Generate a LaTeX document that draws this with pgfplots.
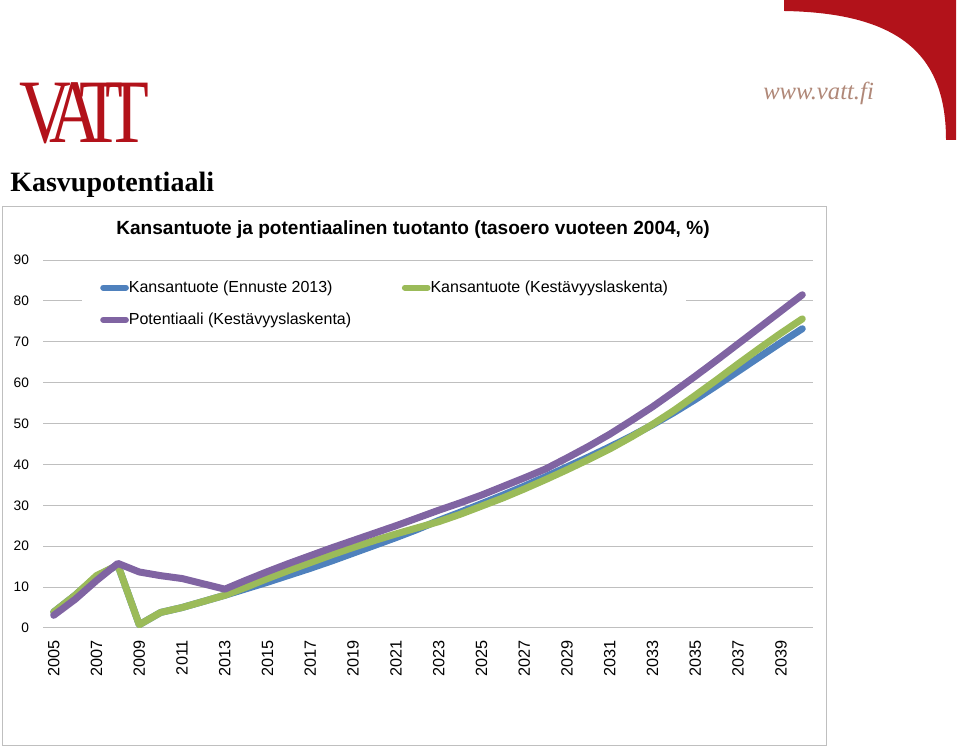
\documentclass[border=0pt]{standalone}
\usepackage{pgfplots}
\pgfplotsset{compat=1.18}
\usepackage{fontspec}
\setmainfont{Liberation Sans}
\newfontfamily\seriffont{Liberation Serif}
\definecolor{vblue}{RGB}{79,129,189}
\definecolor{vgreen}{RGB}{155,187,89}
\definecolor{vpurple}{RGB}{128,100,162}
\definecolor{vred}{RGB}{178,18,26}
\definecolor{gridgray}{RGB}{191,191,191}
\definecolor{urlcol}{RGB}{176,136,120}
\begin{document}
\begin{tikzpicture}
\begin{scope}[x=0.75pt,y=0.75pt]
\useasboundingbox (0,0) rectangle (960,749);
\fill[vred] (784,749) -- (956,749) -- (956,609) -- (946,609) .. controls (946,690) and (905,736) .. (784,738) -- cycle;
\node[anchor=base west, text=urlcol, font=\seriffont\itshape\fontsize{18.5}{18.5}\selectfont, inner sep=0] at (763,649) {www.vatt.fi};
\node[anchor=base west, text=vred, inner sep=0, font=\seriffont\fontsize{68}{68}\selectfont] at (19,606) {\scalebox{0.79}[1]{V\kern-.3em A\kern-.3em T\kern-.25em T}};
\node[anchor=base west, inner sep=0, font=\seriffont\bfseries\fontsize{21}{21}\selectfont] at (10,557) {Kasvupotentiaali};
\draw[gridgray, line width=0.75pt] (2,542) rectangle (826,3);
\node[font=\bfseries\fontsize{14.3}{14.3}\selectfont] at (413,519) {Kansantuote ja potentiaalinen tuotanto (tasoero vuoteen 2004, \%)};
\coordinate (O) at (43,121);
\end{scope}
\begin{axis}[
  at={(O)}, anchor=south west,
  scale only axis, width=577.5pt, height=276pt,
  xmin=-0.5, xmax=35.5, ymin=0, ymax=90,
  clip=false,
  axis line style={draw=none},
  tick style={draw=none},
  ymajorgrids, grid style={gridgray, line width=0.75pt},
  ytick={0,10,...,90},
  xtick={0,2,...,34},
  xticklabels={2005,2007,2009,2011,2013,2015,2017,2019,2021,2023,2025,2027,2029,2031,2033,2035,2037,2039},
  x tick label style={yshift=-5.5pt, rotate=90, anchor=east, font=\fontsize{12.2}{12.2}\selectfont},
  y tick label style={font=\fontsize{10.3}{10.3}\selectfont, xshift=-7pt},
  /pgf/number format/assume math mode=true,
  legend columns=2,
  legend cell align=left,
  legend style={at={(0.0506,0.984)}, anchor=north west, draw=none, fill=white, font=\fontsize{12}{12}\selectfont, inner xsep=13.5pt, inner ysep=9pt, row sep=10pt, nodes={inner xsep=0pt}, /tikz/every even column/.append style={column sep=38pt}},
  legend image code/.code={\draw[line width=4.5pt, line cap=round] (0pt,0pt) -- (17pt,0pt);},
]
\addplot[vblue, line width=5.25pt, line join=round, line cap=round] coordinates {(0,3.9)(1,8.0)(2,12.6)(3,15.4)(4,0.8)(5,3.8)(6,5.0)(7,6.5)(8,8.0)(9,9.6)(10,11.2)(11,12.9)(12,14.6)(13,16.4)(14,18.3)(15,20.2)(16,22.1)(17,24.1)(18,26.3)(19,28.3)(20,30.4)(21,32.5)(22,34.7)(23,37.0)(24,39.4)(25,41.8)(26,44.3)(27,46.9)(28,49.7)(29,52.7)(30,55.9)(31,59.3)(32,62.8)(33,66.3)(34,69.8)(35,73.2)};
\addlegendentry{Kansantuote (Ennuste 2013)}
\addplot[vgreen, line width=5.25pt, line join=round, line cap=round] coordinates {(0,3.9)(1,8.0)(2,12.8)(3,15.4)(4,0.8)(5,3.8)(6,5.0)(7,6.5)(8,8.0)(9,10.0)(10,12.1)(11,14.1)(12,16.0)(13,17.9)(14,19.7)(15,21.4)(16,23.0)(17,24.5)(18,26.0)(19,27.8)(20,29.8)(21,31.8)(22,34.0)(23,36.3)(24,38.7)(25,41.2)(26,43.8)(27,46.7)(28,49.8)(29,53.2)(30,56.9)(31,60.7)(32,64.6)(33,68.4)(34,72.1)(35,75.6)};
\addlegendentry{Kansantuote (Kestävyyslaskenta)}
\addplot[vpurple, line width=5.25pt, line join=round, line cap=round] coordinates {(0,3.1)(1,7.0)(2,11.6)(3,15.8)(4,13.7)(5,12.8)(6,12.1)(7,10.8)(8,9.5)(9,11.7)(10,13.8)(11,15.8)(12,17.7)(13,19.6)(14,21.4)(15,23.2)(16,25.0)(17,26.9)(18,28.8)(19,30.6)(20,32.5)(21,34.6)(22,36.7)(23,38.9)(24,41.6)(25,44.4)(26,47.4)(27,50.7)(28,54.1)(29,57.8)(30,61.6)(31,65.5)(32,69.5)(33,73.5)(34,77.5)(35,81.5)};
\addlegendentry{Potentiaali (Kestävyyslaskenta)}
\end{axis}
\end{tikzpicture}
\end{document}
